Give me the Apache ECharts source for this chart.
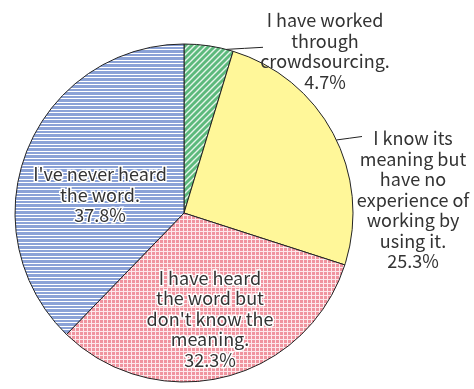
<!DOCTYPE html>
<html>
<head>
<meta charset="utf-8">
<script src="https://cdn.jsdelivr.net/npm/echarts@6/dist/echarts.min.js"></script>
<style>
  html, body { margin: 0; padding: 0; background: #fff; }
  #chart { width: 474px; height: 389px; }
</style>
</head>
<body>
<div id="chart"></div>
<script>
// Survey answers about crowdsourcing (share of respondents, %)
const categories = [
  "I have worked\nthrough\ncrowdsourcing.",
  "I know its\nmeaning but\nhave no\nexperience of\nworking by\nusing it.",
  "I have heard\nthe word but\ndon't know the\nmeaning.",
  "I've never heard\nthe word."
];
const values = [4.7, 25.3, 32.3, 37.8];

// Pie geometry (px)
const CX = 184, CY = 213, R = 169;

// Label centres (px) and whether the label sits inside its slice
const labelCenters = [[325, 51], [413, 200], [210, 319], [100, 195]];
const labelInside = [false, false, true, true];
// Leader lines for outside labels: angle on the rim (deg) and end point (px)
const leaders = [
  { angle: 75.5, end: [263, 47.3] },
  { angle: 25.6, end: [362, 136.5] },
  null,
  null
];

// Hatch fills drawn on small canvases
function tile(w, h, draw) {
  const c = document.createElement('canvas');
  c.width = w; c.height = h;
  draw(c.getContext('2d'), w, h);
  return c;
}
const greenHatch = tile(6, 6, (g, w, h) => {
  g.fillStyle = '#5cb97c'; g.fillRect(0, 0, w, h);
  g.strokeStyle = 'rgba(255,255,255,0.85)'; g.lineWidth = 1.4;
  g.beginPath();
  g.moveTo(-1, h + 1); g.lineTo(w + 1, -1);
  g.moveTo(-1, 1); g.lineTo(1, -1);
  g.moveTo(w - 1, h + 1); g.lineTo(w + 1, h - 1);
  g.stroke();
});
const yellowFill = '#fff799';
const pinkGrid = tile(4, 4, (g, w, h) => {
  g.fillStyle = '#fde8eb'; g.fillRect(0, 0, w, h);
  g.fillStyle = '#f0949f'; g.fillRect(0, 0, 3, 3);
});
const blueStripes = tile(4, 7, (g, w, h) => {
  g.fillStyle = '#8ba2d7'; g.fillRect(0, 0, w, h);
  g.fillStyle = '#ffffff';
  g.fillRect(0, 0, w, 1);
  g.fillRect(0, 4, w, 1);
});
const fills = [
  { image: greenHatch, repeat: 'repeat' },
  yellowFill,
  { image: pinkGrid, repeat: 'repeat' },
  { image: blueStripes, repeat: 'repeat' }
];

const chart = echarts.init(document.getElementById('chart'));
chart.setOption({
  animation: false,
  series: [{
    type: 'pie',
    center: [CX, CY],
    radius: R,
    startAngle: 90,
    clockwise: true,
    avoidLabelOverlap: false,
    data: categories.map((name, i) => ({
      name: name,
      value: values[i],
      itemStyle: { color: fills[i] },
      label: labelInside[i]
        ? { position: 'inside', textBorderColor: '#fff', textBorderWidth: 3 }
        : { position: 'outside' },
      labelLine: { show: !labelInside[i] }
    })),
    itemStyle: { borderColor: '#222', borderWidth: 1 },
    label: {
      formatter: '{b}\n{c}%',
      fontFamily: 'Noto Sans CJK JP',
      fontSize: 18,
      lineHeight: 20.5,
      color: '#333',
      align: 'center'
    },
    labelLine: {
      length: 8,
      length2: 20,
      smooth: false,
      lineStyle: { color: '#222', width: 1 }
    },
    labelLayout: function (p) {
      const c = labelCenters[p.dataIndex];
      const out = { x: c[0], y: c[1], align: 'center', verticalAlign: 'middle' };
      const ld = leaders[p.dataIndex];
      if (ld) {
        const a = ld.angle * Math.PI / 180;
        const s = [CX + R * Math.cos(a), CY - R * Math.sin(a)];
        out.labelLinePoints = [s, [(s[0] + ld.end[0]) / 2, (s[1] + ld.end[1]) / 2], ld.end];
      }
      return out;
    }
  }]
});
</script>
</body>
</html>
